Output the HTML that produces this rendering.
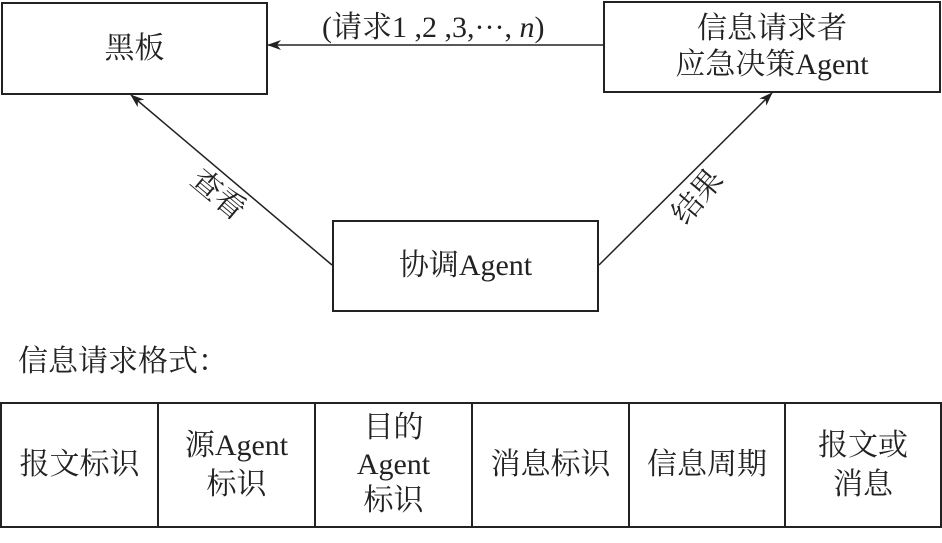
<!DOCTYPE html>
<html><head><meta charset="utf-8"><style>
body{margin:0;width:942px;height:543px;background:#fff;overflow:hidden;position:relative;font-family:"Liberation Serif","Noto Serif CJK SC",serif;color:#222}
.b{position:absolute;border:2px solid #222;box-sizing:border-box;display:flex;align-items:center;justify-content:center;text-align:center;font-size:30px;line-height:1.2}
.t{position:absolute;font-size:30px;white-space:nowrap}
</style></head><body>
<div class="b" style="left:1px;top:2px;width:267px;height:93px">黑板</div>
<div class="b" style="left:603px;top:1px;width:338px;height:92px">信息请求者<br>应急决策Agent</div>
<div class="b" style="left:332px;top:220px;width:267px;height:92px">协调Agent</div>
<div class="t" style="left:322px;top:2px">(请求1 ,2 ,3,···, <i>n</i>)</div>
<svg style="position:absolute;left:0;top:0" width="942" height="543">
<defs><marker id="a" markerWidth="14" markerHeight="10" refX="13" refY="5" orient="auto" markerUnits="userSpaceOnUse"><path d="M0,0 L14,5 L0,10 L4,5z" fill="#222"/></marker></defs>
<line x1="603" y1="45" x2="268" y2="45" stroke="#222" stroke-width="1.5" marker-end="url(#a)"/>
<line x1="332" y1="265" x2="131" y2="95" stroke="#222" stroke-width="1.5" marker-end="url(#a)"/>
<line x1="599" y1="265" x2="772" y2="93" stroke="#222" stroke-width="1.5" marker-end="url(#a)"/>
<text x="212" y="202" font-size="30" transform="rotate(40 212 202)" text-anchor="middle" font-family="Noto Serif CJK SC,serif" fill="#222">查看</text>
<text x="705" y="203" font-size="30" transform="rotate(-50 705 203)" text-anchor="middle" font-family="Noto Serif CJK SC,serif" fill="#222">结果</text>
</svg>
<div class="t" style="left:18px;top:336px">信息请求格式：</div>
<div class="b" style="left:0;top:402px;width:159px;height:126px">报文标识</div>
<div class="b" style="left:157px;top:402px;width:159px;height:126px;line-height:1.3">源Agent<br>标识</div>
<div class="b" style="left:314px;top:402px;width:159px;height:126px;line-height:1.22">目的<br>Agent<br>标识</div>
<div class="b" style="left:471px;top:402px;width:159px;height:126px">消息标识</div>
<div class="b" style="left:628px;top:402px;width:158px;height:126px">信息周期</div>
<div class="b" style="left:784px;top:402px;width:158px;height:126px;line-height:1.3">报文或<br>消息</div>
</body></html>
